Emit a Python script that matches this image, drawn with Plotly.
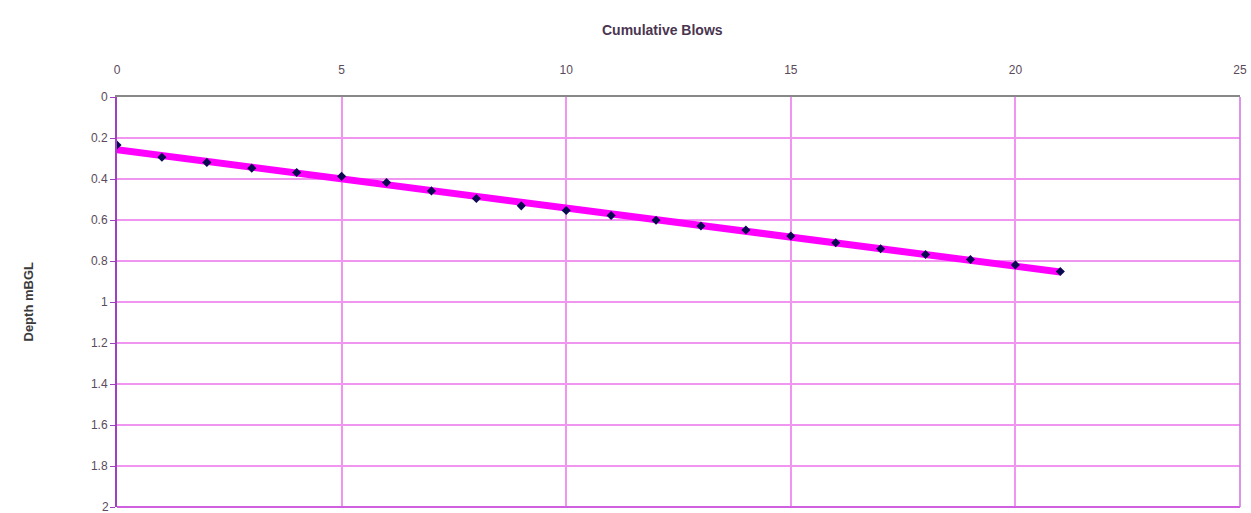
import numpy as np
import plotly.graph_objects as go

blows = [0, 1, 2, 3, 4, 5, 6, 7, 8, 9, 10, 11, 12, 13, 14, 15, 16, 17, 18, 19, 20, 21]
depth = [0.234, 0.294, 0.319, 0.347, 0.368, 0.387, 0.417, 0.458, 0.495, 0.531, 0.554,
         0.578, 0.601, 0.629, 0.649, 0.678, 0.711, 0.740, 0.768, 0.793, 0.819, 0.851]

x_ticks = [0, 5, 10, 15, 20, 25]
y_ticks = [0, 0.2, 0.4, 0.6, 0.8, 1, 1.2, 1.4, 1.6, 1.8, 2]
y_tick_text = ["0", "0.2", "0.4", "0.6", "0.8", "1", "1.2", "1.4", "1.6", "1.8", "2"]

slope, intercept = np.polyfit(blows, depth, 1)
trend_x = [blows[0], blows[-1]]
trend_y = [intercept + slope * v for v in trend_x]

fig = go.Figure()
fig.add_trace(go.Scatter(x=trend_x, y=trend_y, mode="lines",
                         line=dict(color="#ff00ff", width=7), hoverinfo="skip",
                         showlegend=False))
fig.add_trace(go.Scatter(x=blows, y=depth, mode="markers",
                         marker=dict(symbol="diamond", size=7, color="#0a0a50"),
                         showlegend=False))

font = dict(family="Liberation Sans, Arial, sans-serif", size=12, color="#5a4a5a")

# last y label sits on the figure's bottom edge; draw it as an annotation so it is not dropped
shown_y_text = y_tick_text[:-1] + [""]

fig.update_layout(
    width=1251, height=513,
    margin=dict(l=117, r=11, t=97, b=6),
    paper_bgcolor="white", plot_bgcolor="white",
    font=font,
    xaxis=dict(side="top", range=[0, 25], tickvals=x_ticks, showgrid=True,
               gridcolor="#f096f0", gridwidth=2, zeroline=False, automargin=False,
               showline=True, linecolor="#888888", linewidth=2,
               ticks="outside", ticklen=16, tickcolor="rgba(255,255,255,0)", tickfont=font),
    yaxis=dict(range=[2, 0], tickvals=y_ticks, ticktext=shown_y_text, showgrid=True,
               gridcolor="#f096f0", gridwidth=2, zeroline=False, automargin=False,
               showline=True, linecolor="#a040c0", linewidth=2,
               ticks="outside", ticklen=5, tickcolor="#a040c0", tickfont=font),
    annotations=[
        dict(text="<b>Cumulative Blows</b>", xref="paper", yref="paper",
             x=(662 - 117) / 1123, y=1 + (97 - 20) / 410, showarrow=False,
             font=dict(family="Liberation Sans, Arial, sans-serif", size=14, color="#4a3550")),
        dict(text="<b>Depth mBGL</b>", xref="paper", yref="paper",
             x=(18 - 117) / 1123, y=0.5, textangle=-90, showarrow=False,
             font=dict(family="Liberation Sans, Arial, sans-serif", size=13, color="#3a3a3a")),
        dict(text=y_tick_text[-1], xref="paper", yref="y", x=0, y=y_ticks[-1],
             xanchor="right", yanchor="middle", xshift=-6, showarrow=False, font=font),
    ],
)
fig.add_shape(type="line", xref="paper", yref="paper", x0=0, x1=1, y0=0, y1=0,
              line=dict(color="#d060e0", width=2))
fig.add_shape(type="line", xref="paper", yref="paper", x0=1, x1=1, y0=0, y1=1,
              line=dict(color="#d070e0", width=1.5))

fig.write_html("out.html", config={"displayModeBar": False},
               post_script="document.body.style.margin='0';document.body.style.overflow='hidden';")
